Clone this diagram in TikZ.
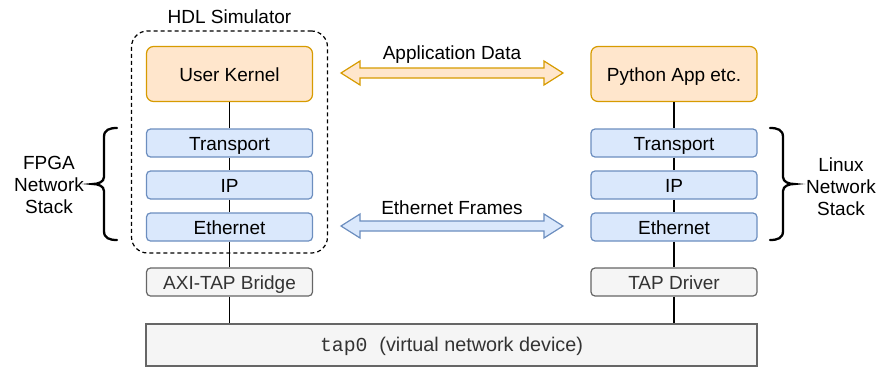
\documentclass[tikz,border=0pt]{standalone}
\usepackage{fontspec}
\setmainfont{Liberation Sans}
\setmonofont{Liberation Mono}
\usetikzlibrary{calc}

\definecolor{orangefill}{HTML}{FFE6CC}
\definecolor{orangeline}{HTML}{D79B00}
\definecolor{bluefill}{HTML}{DAE8FC}
\definecolor{blueline}{HTML}{6C8EBF}
\definecolor{grayfill}{HTML}{F5F5F5}
\definecolor{grayline}{HTML}{666666}
\definecolor{graytext}{HTML}{333333}

\begin{document}
\begin{tikzpicture}[x=1pt,y=-1pt,
  every node/.style={font=\fontsize{19}{22}\selectfont, inner sep=0pt},
  line/.style={text height=19pt, text depth=4pt},
  appbox/.style={line, draw=orangeline, fill=orangefill, line width=1.2pt, rounded corners=7pt,
                 minimum width=166pt, minimum height=55pt},
  layerbox/.style={line, draw=blueline, fill=bluefill, line width=1.2pt, rounded corners=4pt,
                   minimum width=166pt, minimum height=28pt},
  drvbox/.style={line, draw=grayline, fill=grayfill, line width=1.2pt, rounded corners=4pt,
                 minimum width=166pt, minimum height=28pt, text=graytext},
  devbox/.style={font=\fontsize{19.8}{23}\selectfont, text height=17pt, text depth=4pt,
                 draw=grayline, fill=grayfill, line width=1.2pt,
                 minimum width=611pt, minimum height=42pt, text=graytext},
  link/.style={draw=black, line width=1.1pt},
  stackbrace/.style={draw=black, line width=2.3pt, line cap=round},
  label/.style={align=center},
]
\useasboundingbox (0,0) rectangle (881,367);

% simulator boundary
\node[draw=black, dashed, dash pattern=on 4pt off 3pt, line width=1.2pt, rounded corners=16pt,
      minimum width=196pt, minimum height=222pt] (sim) at (229.5,142) {};
\node[line] (simlabel) at (229.5,15.5) {HDL Simulator};

% FPGA side stack
\node[appbox] (uk) at (229.5,74) {User Kernel};
\node[layerbox] (ltr) at (229.5,143) {Transport};
\node[layerbox] (lip) at (229.5,185) {IP};
\node[layerbox] (leth) at (229.5,227) {Ethernet};
\node[drvbox] (axi) at (229.5,282) {AXI-TAP Bridge};

% host side stack
\node[appbox] (py) at (674,74) {Python App etc.};
\node[layerbox] (rtr) at (674,143) {Transport};
\node[layerbox] (rip) at (674,185) {IP};
\node[layerbox] (reth) at (674,227) {Ethernet};
\node[drvbox] (tapdrv) at (674,282) {TAP Driver};

% shared virtual device
\node[devbox] (tap) at (451.5,345) {\texttt{tap0 }(virtual network device)};

% vertical links
\foreach \a/\b in {uk/ltr, ltr/lip, lip/leth, leth/axi, py/rtr, rtr/rip, rip/reth, reth/tapdrv}
  \draw[link] (\a.south) -- (\b.north);
\draw[link] (axi.south) -- (axi.south |- tap.north);
\draw[link] (tapdrv.south) -- (tapdrv.south |- tap.north);

% braces around the network stacks
\coordinate (lb) at (117,128);
\draw[stackbrace] (lb)
  .. controls ++(-8,0) and ++(0,-7) .. ++(-13,9) -- ++(0,40)
  .. controls ++(0,5) and ++(5,0) .. ++(-11,7)
  .. controls ++(5,0) and ++(0,-5) .. ++(11,7) -- ++(0,40)
  .. controls ++(0,7) and ++(-8,0) .. ++(13,9);
\node[label] (fpgalabel) at (49,184.5) {FPGA\\Network\\Stack};

\coordinate (rb) at (770,128);
\draw[stackbrace] (rb)
  .. controls ++(8,0) and ++(0,-7) .. ++(13,9) -- ++(0,40)
  .. controls ++(0,5) and ++(-5,0) .. ++(11,7)
  .. controls ++(-5,0) and ++(0,-5) .. ++(-11,7) -- ++(0,40)
  .. controls ++(0,7) and ++(8,0) .. ++(-13,9);
\node[label] (linuxlabel) at (841,186.5) {Linux\\Network\\Stack};

% double arrows between the two sides
\coordinate (appL) at (341,73);
\coordinate (appR) at (563,73);
\draw[draw=orangeline, fill=orangefill, line width=1.2pt, line join=miter]
  (appL) -- ++(19,-12) -- ++(0,7) -- ($(appR)+(-19,-5)$) -- ++(0,-7) -- (appR)
  -- ++(-19,12) -- ++(0,-7) -- ($(appL)+(19,5)$) -- ++(0,7) -- cycle;
\node[line] (applabel) at (452,51.5) {Application Data};

\coordinate (ethL) at (341,226);
\coordinate (ethR) at (563,226);
\draw[draw=blueline, fill=bluefill, line width=1.2pt, line join=miter]
  (ethL) -- ++(19,-12) -- ++(0,7) -- ($(ethR)+(-19,-5)$) -- ++(0,-7) -- (ethR)
  -- ++(-19,12) -- ++(0,-7) -- ($(ethL)+(19,5)$) -- ++(0,7) -- cycle;
\node[line] (ethlabel) at (452,206.5) {Ethernet Frames};
\end{tikzpicture}
\end{document}
